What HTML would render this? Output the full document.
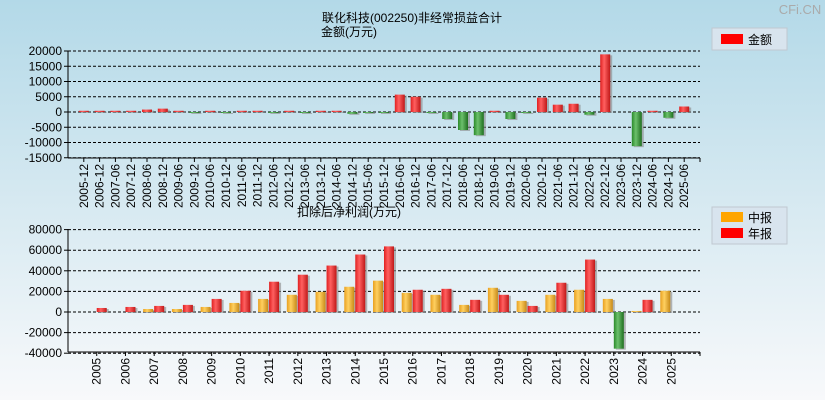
<!DOCTYPE html>
<html><head><meta charset="utf-8"><style>
body{margin:0;width:825px;height:400px;overflow:hidden;font-family:"Liberation Sans","Noto Sans CJK SC",sans-serif}
svg{display:block}
</style></head><body>
<svg id="c" width="825" height="400" xmlns="http://www.w3.org/2000/svg">
<defs>
<linearGradient id="bg" x1="0" y1="0" x2="0" y2="1"><stop offset="0" stop-color="#b3d9e8"/><stop offset="0.5" stop-color="#d6e9f1"/><stop offset="1" stop-color="#f8f9fb"/></linearGradient>
<linearGradient id="gr" x1="0" x2="1"><stop offset="0" stop-color="#e02020"/><stop offset="0.4" stop-color="#ff6060"/><stop offset="1" stop-color="#c01818"/></linearGradient>
<linearGradient id="gg" x1="0" x2="1"><stop offset="0" stop-color="#2a8a2a"/><stop offset="0.4" stop-color="#6cc06c"/><stop offset="1" stop-color="#1f6f1f"/></linearGradient>
<linearGradient id="go" x1="0" x2="1"><stop offset="0" stop-color="#e8a020"/><stop offset="0.4" stop-color="#ffd060"/><stop offset="1" stop-color="#c88a18"/></linearGradient>
</defs>
<rect width="825" height="400" fill="url(#bg)"/>
<text x="800" y="14" font-size="13" fill="#aaa" text-anchor="middle">CFi.CN</text>
<text x="412" y="22" font-size="12" text-anchor="middle">联化科技(002250)非经常损益合计</text>
<text x="349" y="36" font-size="12" text-anchor="middle">金额(万元)</text>
<text x="349" y="216" font-size="12" text-anchor="middle">扣除后净利润(万元)</text>
<g>
<rect x="712" y="28" width="75" height="22" fill="#d8e4ee" stroke="#c0c8d0"/>
<rect x="721" y="34" width="22" height="10" fill="#f00"/>
<text x="748" y="44" font-size="12">金额</text>
</g>
<g>
<rect x="712" y="207" width="75" height="37" fill="#d8e4ee" stroke="#c0c8d0"/>
<rect x="721" y="212" width="22" height="10" fill="#ffa500"/>
<text x="748" y="222" font-size="12">中报</text>
<rect x="721" y="228" width="22" height="10" fill="#f00"/>
<text x="748" y="238" font-size="12">年报</text>
</g>
<g id="top"></g><g id="bot"></g>
</svg>
<script>
const topCats=["2005-12","2006-12","2007-06","2007-12","2008-06","2008-12","2009-06","2009-12","2010-06","2010-12","2011-06","2011-12","2012-06","2012-12","2013-06","2013-12","2014-06","2014-12","2015-06","2015-12","2016-06","2016-12","2017-06","2017-12","2018-06","2018-12","2019-06","2019-12","2020-06","2020-12","2021-06","2021-12","2022-06","2022-12","2023-06","2023-12","2024-06","2024-12","2025-06"];
const topVals=[400,400,400,400,800,1100,400,-300,400,-200,400,400,-300,400,-200,400,400,-600,-300,-300,5700,5000,-200,-2300,-5900,-7600,400,-2300,-300,4700,2400,2700,-900,18900,0,-11200,400,-1900,1800];
const topTicks=[20000,15000,10000,5000,0,-5000,-10000,-15000];
const botYears=["2005","2006","2007","2008","2009","2010","2011","2012","2013","2014","2015","2016","2017","2018","2019","2020","2021","2022","2023","2024","2025"];
const botInterim=[null,null,2900,2900,4900,8800,12700,16700,19600,24500,30400,18600,16700,6900,23500,10800,16700,21600,12700,1000,20600];
const botAnnual=[3900,4900,5900,6900,12700,20600,29400,36200,45100,55800,63700,21600,22500,11800,16700,5900,28400,50900,-35600,11800,null];
const botTicks=[80000,60000,40000,20000,0,-20000,-40000];
const NS="http://www.w3.org/2000/svg";
function mk(p,t,a){const e=document.createElementNS(NS,t);for(const k in a)e.setAttribute(k,a[k]);p.appendChild(e);return e;}
const L=68,R=700;
function axes(g,ticks,y,yTop,yBot,xs,labels,rot){
  ticks.forEach(t=>{const yy=y(t);
    const gl=mk(g,'line',{x1:L,x2:R,y1:yy,y2:yy,stroke:'#000','stroke-dasharray':'3,2','stroke-width':1});
    
    mk(g,'line',{x1:L-4,x2:L,y1:yy,y2:yy,stroke:'#000'});
    const tx=mk(g,'text',{x:L-6,y:yy+4,'font-size':12,'text-anchor':'end'});tx.textContent=t;
    });
  mk(g,'line',{x1:L,x2:L,y1:yTop,y2:yBot,stroke:'#000'});
  mk(g,'line',{x1:L,x2:R,y1:yBot,y2:yBot,stroke:'#000'});
  mk(g,'line',{x1:R,x2:R,y1:yBot,y2:yBot+4,stroke:'#000'});
  labels.forEach((s,i)=>{const x=xs(i);mk(g,'line',{x1:x,x2:x,y1:yBot,y2:yBot+4,stroke:'#000'});
    const tx=mk(g,'text',{x:0,y:0,'font-size':12,'text-anchor':'end',transform:`translate(${x+4},${yBot+6}) rotate(-90)`});tx.textContent=s;
    });
}
function bar(g,x,w,v,y,fill,name){
  const y0=y(0),y1=y(v);const top=Math.min(y0,y1),h=Math.max(Math.abs(y1-y0),1);
  mk(g,'rect',{x:x+2,y:top+1,width:w,height:h,fill:'#888',opacity:0.6});
  const r=mk(g,'rect',{x:x,y:top,width:w,height:h,fill:fill});
  
}
// top chart
const tg=document.getElementById('top');
const ty=v=>112-v*(61/20000);
const tstep=(R-L)/(topCats.length+1);
const tx=i=>L+tstep*(i+1);
axes(tg,topTicks,ty,51,158,tx,topCats);
topVals.forEach((v,i)=>{if(v===0)return;bar(tg,tx(i)-5,10,v,ty,v>=0?'url(#gr)':'url(#gg)','bar-'+topCats[i]);});
// bottom chart
const bg=document.getElementById('bot');
const by=v=>312-v*(20.6/20000);
const bstep=(R-L)/(botYears.length+1);
const bx=i=>L+bstep*(i+1);
axes(bg,botTicks,by,229,352,bx,botYears);
botYears.forEach((yr,i)=>{
  if(botInterim[i]!==null)bar(bg,bx(i)-11,10,botInterim[i],by,'url(#go)','bar-interim-'+yr);
  if(botAnnual[i]!==null)bar(bg,bx(i)+0,10,botAnnual[i],by,botAnnual[i]>=0?'url(#gr)':'url(#gg)','bar-annual-'+yr);
});
</script>
</body></html>
